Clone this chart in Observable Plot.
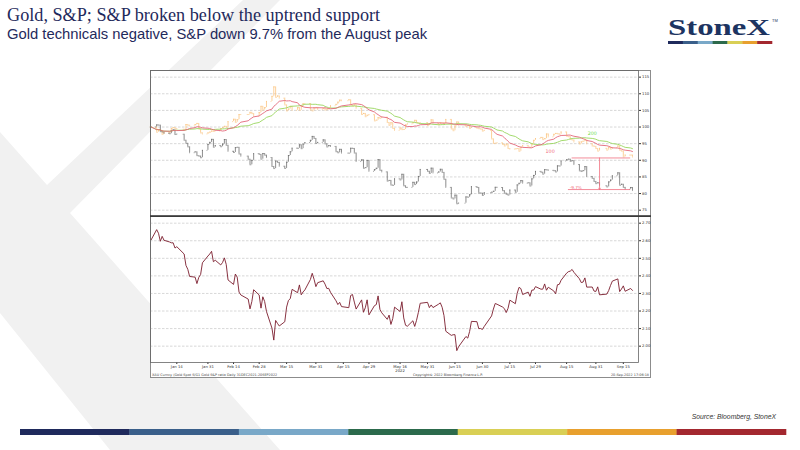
<!DOCTYPE html>
<html>
<head>
<meta charset="utf-8">
<script src="https://cdn.jsdelivr.net/npm/d3@7"></script>
<script src="https://cdn.jsdelivr.net/npm/@observablehq/plot@0.6"></script>
<style>
html,body{margin:0;padding:0;background:#fff;}
#page{position:relative;width:800px;height:450px;overflow:hidden;background:#fff;}
.abs{position:absolute;left:0;top:0;}
#box{position:absolute;left:150px;top:70px;width:501px;height:308px;box-sizing:border-box;border:1px solid #8c8c8c;background:#fff;}
#topPlot{position:absolute;left:150px;top:70px;}
#bottomPlot{position:absolute;left:150px;top:216px;}
svg{overflow:visible;}
</style>
</head>
<body>
<div id="page">
  <svg class="abs" width="800" height="450" id="bg">
    <polygon points="243,0 280,0 70,213 280,450 110,450 0,313 0,132 47,185" fill="#f1f1f1"/>
  </svg>
  <div id="box"></div>
  <div id="topPlot"></div>
  <div id="bottomPlot"></div>
  <svg class="abs" width="800" height="450" id="overlay" style="pointer-events:none">
    <text x="7" y="21" font-family="Liberation Serif, Times New Roman, serif" font-size="18.2" fill="#1f2a5c">Gold, S&amp;P; S&amp;P broken below the uptrend support</text>
    <text x="7" y="38.5" font-family="Liberation Sans, Arial, sans-serif" font-size="14.8" fill="#1f2a5c">Gold technicals negative, S&amp;P down 9.7% from the August peak</text>
    <text x="668" y="35" font-family="Liberation Serif, Times New Roman, serif" font-weight="bold" font-size="23" fill="#1d3461" textLength="102" lengthAdjust="spacingAndGlyphs">StoneX</text>
    <text x="772" y="22" font-family="Liberation Sans, Arial, sans-serif" font-size="4" fill="#1d3461">TM</text>
    <g id="logoBar"></g>
    <rect x="150" y="215.2" width="501" height="1.8" fill="#3a3a3a"/>
    <text x="152" y="375.6" font-family="DejaVu Sans, sans-serif" font-size="3.4" fill="#444">XAU Curncy (Gold Spot    S/G1 Gold S&amp;P ratio   Daily 31DEC2021-20SEP2022</text>
    <text x="413" y="375.6" font-family="DejaVu Sans, sans-serif" font-size="3.4" fill="#444">Copyright© 2022 Bloomberg Finance L.P.</text>
    <text x="649" y="375.6" text-anchor="end" font-family="DejaVu Sans, sans-serif" font-size="3.4" fill="#444">20-Sep-2022 17:06:18</text>
    <text x="776" y="419" text-anchor="end" font-family="Liberation Sans, Arial, sans-serif" font-style="italic" font-size="6.8" fill="#333">Source: Bloomberg, StoneX</text>
    <g id="footBar"></g>
  </svg>
</div>
<script>
// ---- data (daily closes) ----
const tradingDays = [
"2021-12-31",
"2022-01-03","2022-01-04","2022-01-05","2022-01-06","2022-01-07","2022-01-10","2022-01-11","2022-01-12","2022-01-13","2022-01-14","2022-01-18","2022-01-19","2022-01-20","2022-01-21","2022-01-24","2022-01-25","2022-01-26","2022-01-27","2022-01-28","2022-01-31",
"2022-02-01","2022-02-02","2022-02-03","2022-02-04","2022-02-07","2022-02-08","2022-02-09","2022-02-10","2022-02-11","2022-02-14","2022-02-15","2022-02-16","2022-02-17","2022-02-18","2022-02-22","2022-02-23","2022-02-24","2022-02-25","2022-02-28",
"2022-03-01","2022-03-02","2022-03-03","2022-03-04","2022-03-07","2022-03-08","2022-03-09","2022-03-10","2022-03-11","2022-03-14","2022-03-15","2022-03-16","2022-03-17","2022-03-18","2022-03-21","2022-03-22","2022-03-23","2022-03-24","2022-03-25","2022-03-28","2022-03-29","2022-03-30","2022-03-31",
"2022-04-01","2022-04-04","2022-04-05","2022-04-06","2022-04-07","2022-04-08","2022-04-11","2022-04-12","2022-04-13","2022-04-14","2022-04-18","2022-04-19","2022-04-20","2022-04-21","2022-04-22","2022-04-25","2022-04-26","2022-04-27","2022-04-28","2022-04-29",
"2022-05-02","2022-05-03","2022-05-04","2022-05-05","2022-05-06","2022-05-09","2022-05-10","2022-05-11","2022-05-12","2022-05-13","2022-05-16","2022-05-17","2022-05-18","2022-05-19","2022-05-20","2022-05-23","2022-05-24","2022-05-25","2022-05-26","2022-05-27","2022-05-31",
"2022-06-01","2022-06-02","2022-06-03","2022-06-06","2022-06-07","2022-06-08","2022-06-09","2022-06-10","2022-06-13","2022-06-14","2022-06-15","2022-06-16","2022-06-17","2022-06-21","2022-06-22","2022-06-23","2022-06-24","2022-06-27","2022-06-28","2022-06-29","2022-06-30",
"2022-07-01","2022-07-05","2022-07-06","2022-07-07","2022-07-08","2022-07-11","2022-07-12","2022-07-13","2022-07-14","2022-07-15","2022-07-18","2022-07-19","2022-07-20","2022-07-21","2022-07-22","2022-07-25","2022-07-26","2022-07-27","2022-07-28","2022-07-29",
"2022-08-01","2022-08-02","2022-08-03","2022-08-04","2022-08-05","2022-08-08","2022-08-09","2022-08-10","2022-08-11","2022-08-12","2022-08-15","2022-08-16","2022-08-17","2022-08-18","2022-08-19","2022-08-22","2022-08-23","2022-08-24","2022-08-25","2022-08-26","2022-08-29","2022-08-30","2022-08-31",
"2022-09-01","2022-09-02","2022-09-06","2022-09-07","2022-09-08","2022-09-09","2022-09-12","2022-09-13","2022-09-14","2022-09-15","2022-09-16","2022-09-19","2022-09-20"];

const spxClose = [
4766.2,
4796.6,4793.5,4700.6,4696.1,4677.0,4670.3,4713.1,4726.4,4659.0,4662.9,4577.1,4532.8,4482.7,4397.9,4410.1,4356.5,4349.9,4326.5,4431.9,4515.6,
4546.5,4589.4,4477.4,4500.5,4483.9,4521.5,4587.2,4504.1,4418.6,4401.7,4471.1,4475.0,4380.3,4348.9,4304.8,4225.5,4288.7,4384.7,4373.9,
4306.3,4386.5,4363.5,4328.9,4201.1,4170.7,4277.9,4259.5,4204.3,4173.1,4262.5,4357.9,4411.7,4463.1,4461.2,4511.6,4456.2,4520.2,4543.1,4575.5,4631.6,4602.5,4530.4,
4545.9,4582.6,4525.1,4481.2,4500.2,4488.3,4412.5,4397.5,4446.6,4392.6,4391.7,4462.2,4459.5,4393.7,4271.8,4296.1,4175.2,4184.0,4287.5,4131.9,
4155.4,4175.5,4300.2,4146.9,4123.3,3991.2,4001.1,3935.2,3930.1,4023.9,4008.0,4088.9,3923.7,3900.8,3901.4,3973.8,3941.5,3978.7,4057.8,4158.2,4132.2,
4101.2,4176.8,4108.5,4121.4,4160.7,4115.8,4017.8,3900.9,3749.6,3735.5,3790.0,3666.8,3674.8,3764.8,3759.9,3795.7,3911.7,3900.1,3821.6,3818.8,3785.4,
3825.3,3831.4,3845.1,3902.6,3899.4,3854.4,3818.8,3801.8,3790.4,3863.2,3830.9,3936.7,3959.9,3999.0,3961.6,3966.8,3921.1,4023.6,4072.4,4130.3,
4118.6,4091.2,4155.2,4151.9,4145.2,4140.1,4122.5,4210.2,4207.3,4280.2,4297.1,4305.2,4274.0,4283.7,4228.5,4138.0,4128.7,4140.8,4199.1,4057.7,4030.6,3986.2,3955.0,
3966.9,3924.3,3908.2,3979.9,4006.2,4067.4,4110.4,3932.7,3946.0,3901.4,3873.3,3899.9,3855.9];

const goldClose = [
1829.2,
1801,1814,1810,1789,1797,1801,1821,1826,1821,1817,1813,1843,1839,1835,1843,1849,1819,1797,1791,1797,
1801,1807,1805,1808,1821,1826,1833,1827,1859,1872,1855,1870,1898,1898,1898,1910,1903,1889,1909,
1943,1923,1936,1970,1998,2050,1993,2000,1988,1951,1918,1928,1943,1921,1936,1921,1944,1958,1958,1923,1918,1933,1937,
1925,1932,1923,1925,1932,1946,1954,1966,1977,1974,1979,1950,1944,1952,1932,1898,1904,1886,1894,1897,
1863,1867,1881,1877,1883,1854,1838,1853,1822,1811,1824,1815,1816,1841,1846,1853,1866,1853,1851,1853,1837,
1848,1869,1851,1841,1852,1853,1848,1871,1819,1809,1835,1857,1840,1832,1838,1822,1827,1823,1820,1818,1807,
1811,1764,1739,1740,1742,1734,1725,1735,1711,1708,1709,1711,1696,1718,1727,1719,1717,1735,1756,1766,
1772,1760,1765,1791,1775,1789,1794,1792,1789,1802,1779,1776,1761,1758,1747,1736,1748,1751,1758,1737,1725,1723,1711,
1697,1712,1702,1718,1708,1716,1725,1702,1697,1665,1675,1675,1664];

const topTicks = [75, 80, 85, 90, 95, 100, 105, 110, 115];
const bottomTicks = [2.0, 2.1, 2.2, 2.3, 2.4, 2.5, 2.6, 2.7];
const xTickDates = ["2022-01-14","2022-01-31","2022-02-14","2022-02-28","2022-03-15","2022-03-31","2022-04-15","2022-04-29","2022-05-16","2022-05-31","2022-06-15","2022-06-30","2022-07-15","2022-07-29","2022-08-15","2022-08-31","2022-09-15"];
const yearLabelDate = "2022-05-16";

// annotations
const maLabelText = ["100", "200"];
const maLabelDate = ["2022-08-06", "2022-08-29"];
const maLabelValue = [92.7, 98.0];
const levelStart = ["2022-08-18", "2022-08-16"];
const levelEnd = ["2022-09-19", "2022-09-19"];
const levelValue = [90.7, 81.2];
const dropDate = "2022-09-02";
const dropText = "-9.7%";
const dropTextDate = "2022-08-20";

const palette = ["#1f2a5c", "#3a5f8a", "#79a8c8", "#2c6a4c", "#d9cf55", "#e8a02e", "#a3282f"];

// ---- build table ----
const parse = d3.utcParse("%Y-%m-%d");
const DAY = 86400000;
const rows = tradingDays.map((d, i) => ({
  date: parse(d),
  spx: spxClose[i],
  gold: goldClose[i]
}));
rows.forEach((r, i) => {
  r.spxN = r.spx / spxClose[0] * 100;
  r.goldN = r.gold / goldClose[0] * 100;
  r.ratio = r.spx / r.gold;
  r.spxPrev = i ? rows[i - 1].spx / spxClose[0] * 100 : r.spxN;
  r.goldPrev = i ? rows[i - 1].gold / goldClose[0] * 100 : r.goldN;
  r.dateNext = new Date(+r.date + 0.5 * DAY);
  r.datePrev = new Date(+r.date - 0.5 * DAY);
});
const maLabels = maLabelText.map((t, i) => ({text: t, date: parse(maLabelDate[i]), value: maLabelValue[i]}));
const levels = levelValue.map((v, i) => ({x1: parse(levelStart[i]), x2: parse(levelEnd[i]), y: v}));
const drop = [{x: parse(dropDate), y1: levelValue[0], y2: levelValue[1]}];
const dropLabel = [{x: parse(dropTextDate), y: levelValue[1], text: dropText}];
const tickDates = xTickDates.map(parse);

const xDomain = [new Date("2021-12-30T15:00:00Z"), new Date("2022-09-23T07:00:00Z")];
const plotStyle = {background: "transparent", fontFamily: "DejaVu Sans, sans-serif", fontSize: "3.8px", color: "#333", overflow: "visible"};
const gridOpts = {stroke: "#bdbdbd", strokeOpacity: 1, strokeDasharray: "2.5,1.5", strokeWidth: 0.6};

const goldCol = "#fbc480";
const spxCol = "#5a5a5a";
const topChart = Plot.plot({
  width: 501, height: 146,
  marginLeft: 0, marginRight: 13, marginTop: 0, marginBottom: 0,
  x: {type: "utc", domain: xDomain, axis: null},
  y: {domain: [73.1, 117]},
  style: plotStyle,
  marks: [
    Plot.gridY(topTicks, gridOpts),
    // Gold bars (previous close -> close, with open/close ticks)
    Plot.ruleX(rows, {x: "date", y1: "goldPrev", y2: "goldN", stroke: goldCol, strokeWidth: 0.8}),
    Plot.ruleY(rows, {y: "goldPrev", x1: "datePrev", x2: "date", stroke: goldCol, strokeWidth: 0.7}),
    Plot.ruleY(rows, {y: "goldN", x1: "date", x2: "dateNext", stroke: goldCol, strokeWidth: 0.7}),
    // S&P bars
    Plot.ruleX(rows, {x: "date", y1: "spxPrev", y2: "spxN", stroke: spxCol, strokeWidth: 0.7}),
    Plot.ruleY(rows, {y: "spxPrev", x1: "datePrev", x2: "date", stroke: spxCol, strokeWidth: 0.6}),
    Plot.ruleY(rows, {y: "spxN", x1: "date", x2: "dateNext", stroke: spxCol, strokeWidth: 0.6}),
    // moving averages of gold
    Plot.lineY(rows, Plot.windowY({k: 20, anchor: "end", strict: false}, {x: "date", y: "goldN", stroke: "#98d65e", strokeWidth: 0.9})),
    Plot.lineY(rows, Plot.windowY({k: 10, anchor: "end", strict: false}, {x: "date", y: "goldN", stroke: "#e3687a", strokeWidth: 0.9})),
    Plot.text(maLabels, {x: "date", y: "value", text: "text", fill: (d) => d.text === "100" ? "#f06a7c" : "#6fe04a", fontSize: 4.8}),
    // drawdown annotation
    Plot.ruleY(levels, {y: "y", x1: "x1", x2: "x2", stroke: "#f07080", strokeWidth: 0.8}),
    Plot.arrow(drop, {x1: "x", x2: "x", y1: "y1", y2: "y2", stroke: "#f07080", strokeWidth: 0.8, headLength: 3}),
    Plot.text(dropLabel, {x: "x", y: "y", text: "text", fill: "#f06a7c", fontSize: 4.2, lineAnchor: "bottom", dy: -0.3}),
    Plot.axisY(topTicks, {anchor: "right", tickSize: 2, tickPadding: 1.5, fontSize: 3.8, label: null}),
    Plot.frame({stroke: "#666", strokeWidth: 0.8})
  ]
});
document.getElementById("topPlot").append(topChart);

const fmtDay = d3.utcFormat("%b %d");
const bottomChart = Plot.plot({
  width: 501, height: 162,
  marginLeft: 0, marginRight: 13, marginTop: 0, marginBottom: 16,
  x: {type: "utc", domain: xDomain},
  y: {domain: [1.907, 2.738]},
  style: plotStyle,
  marks: [
    Plot.gridY(bottomTicks, gridOpts),
    Plot.lineY(rows, {x: "date", y: "ratio", stroke: "#7a1c2c", strokeWidth: 0.9}),
    Plot.axisY(bottomTicks, {anchor: "right", tickSize: 2, tickPadding: 1.5, fontSize: 3.8, tickFormat: d3.format(".2f"), label: null}),
    Plot.axisX(tickDates, {tickSize: 2, tickPadding: 1, fontSize: 3.8, label: null,
      tickFormat: (d) => d3.utcFormat("%Y-%m-%d")(d) === yearLabelDate ? fmtDay(d) + "\n2022" : fmtDay(d)}),
    Plot.frame({stroke: "#666", strokeWidth: 0.8})
  ]
});
document.getElementById("bottomPlot").append(bottomChart);

// decorative colour bars
function colourBar(id, x0, y, w, h) {
  const g = document.getElementById(id);
  const seg = w / palette.length;
  palette.forEach((c, i) => {
    const r = document.createElementNS("http://www.w3.org/2000/svg", "rect");
    r.setAttribute("x", x0 + i * seg);
    r.setAttribute("y", y);
    r.setAttribute("width", seg + 0.3);
    r.setAttribute("height", h);
    r.setAttribute("fill", c);
    g.append(r);
  });
}
colourBar("logoBar", 668, 41, 104, 3);
colourBar("footBar", 20, 429, 766, 6);
</script>
</body>
</html>
